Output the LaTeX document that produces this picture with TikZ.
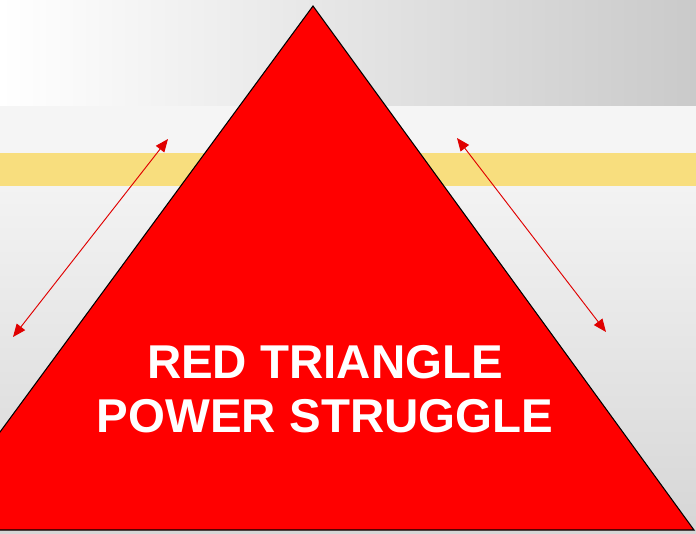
\documentclass[tikz,border=0pt]{standalone}
\usepackage{fontspec}
\setmainfont{Liberation Sans}
\usetikzlibrary{arrows.meta}
\definecolor{bandLight}{HTML}{F5F5F5}
\definecolor{bandYellow}{HTML}{F8DE7E}
\definecolor{bgTop}{HTML}{F3F3F3}
\definecolor{bgBottom}{HTML}{D6D6D6}
\definecolor{topMid}{HTML}{EFEFEF}
\definecolor{topRight}{HTML}{CACACA}
\definecolor{triRed}{HTML}{FF0000}
\definecolor{arrowRed}{HTML}{E00000}

\begin{document}
\begin{tikzpicture}[
    x=0.03cm, y=-0.03cm,
    triangle/.style = {fill=triRed, draw=black, line width=0.9pt, line join=miter},
    pull/.style     = {draw=arrowRed, line width=0.8pt, {Triangle[length=11pt,width=9pt]}-{Triangle[length=11pt,width=9pt]}},
    title/.style    = {font=\fontsize{40.5}{46}\selectfont\bfseries, text=white, anchor=base, inner sep=0pt}
  ]
  \useasboundingbox (0,0) rectangle (696,534);

  %% background bands
  \shade[left color=white, middle color=topMid, right color=topRight] (0,0) rectangle (696,106);
  \fill[bandLight] (0,106) rectangle (696,153);
  \fill[bandYellow] (0,153) rectangle (696,186);
  \shade[top color=bgTop, bottom color=bgBottom] (0,186) rectangle (696,534);

  %% the triangle, cut at the left edge
  \coordinate (apex) at (313,6);
  \coordinate (baseR) at (694,530);
  \coordinate (baseL) at (-72,530);
  \begin{scope}
    \clip (0,0) rectangle (696,534);
    \draw[triangle] (apex) -- (baseR) -- (baseL) -- cycle;
  \end{scope}

  %% tension arrows
  \coordinate (leftLow)   at (13,337);
  \coordinate (leftHigh)  at (168,139);
  \coordinate (rightHigh) at (457,138);
  \coordinate (rightLow)  at (606,332);
  \draw[pull] (leftLow) -- (leftHigh);
  \draw[pull] (rightHigh) -- (rightLow);

  %% label
  \node[title] (redline)   at (325,378) {RED TRIANGLE};
  \node[title] (powerline) at (325,432) {POWER STRUGGLE};
\end{tikzpicture}
\end{document}
